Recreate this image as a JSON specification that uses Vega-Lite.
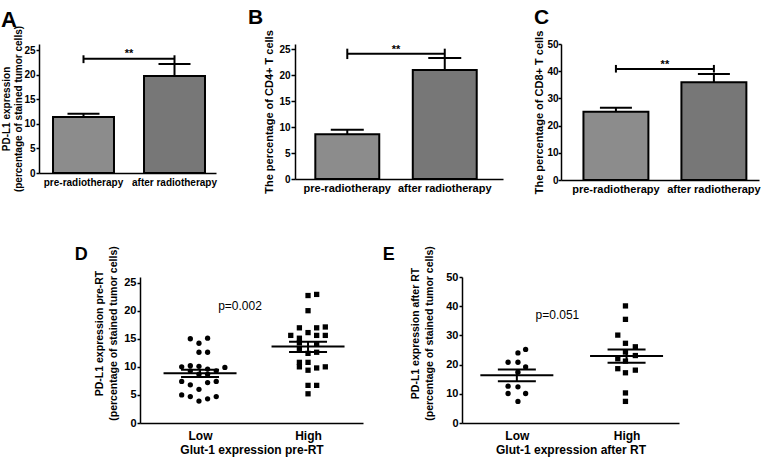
{
  "$schema": "https://vega.github.io/schema/vega-lite/v6.json",
  "background": "white",
  "padding": {"left": 0, "top": 6, "right": 0, "bottom": 2},
  "spacing": 51,
  "config": {
    "font": "Liberation Sans",
    "view": {"stroke": null},
    "mark": {"color": "black"},
    "axis": {"domainColor": "black", "tickColor": "black", "labelColor": "black", "titleColor": "black", "labelFontWeight": "bold", "titleFontWeight": "bold", "grid": false, "domainWidth": 1.5, "tickWidth": 1.5, "tickSize": 4, "titlePadding": 5, "tickCount": 12},
    "axisX": {"titlePadding": 3},
    "title": {"fontWeight": "bold", "anchor": "start", "color": "black", "frame": "bounds"}
  },
  "vconcat": [
    {
      "spacing": 30,
      "hconcat": [
        {
          "title": {"text": "A", "fontSize": 22, "offset": -7, "dx": -1},
          "width": 177,
          "height": 129,
          "encoding": {
            "x": {"field": "cond", "type": "nominal", "sort": null,
              "scale": {"type": "band", "domain": ["pre-radiotherapy", "after radiotherapy"], "paddingInner": 0.33, "paddingOuter": 0.1375, "align": 0.56},
              "axis": {"title": null, "ticks": false, "labelAngle": 0, "labelFontSize": 10, "labelPadding": 4}}
          },
          "layer": [
            {
              "data": {"values": [
                {"cond": "pre-radiotherapy", "mean": 11.4, "err": 12.1},
                {"cond": "after radiotherapy", "mean": 19.8, "err": 22.2}
              ]},
              "layer": [
                {"mark": {"type": "bar", "stroke": "black", "strokeWidth": 2},
                 "encoding": {
                   "y": {"field": "mean", "type": "quantitative", "scale": {"domain": [0, 26.3], "nice": false},
                     "axis": {"values": [0, 5, 10, 15, 20, 25], "title": ["PD-L1 expression", "(percentage of stained tumor cells)"], "titleFontSize": 10, "titleLineHeight": 12, "labelFontSize": 10, "tickSize": 3, "labelPadding": 1, "titlePadding": 0}},
                   "color": {"field": "cond", "type": "nominal", "scale": {"domain": ["pre-radiotherapy", "after radiotherapy"], "range": ["#8c8c8c", "#777777"]}, "legend": null}}},
                {"mark": {"type": "rule", "strokeWidth": 2},
                 "encoding": {"y": {"field": "mean", "type": "quantitative"}, "y2": {"field": "err"}}},
                {"mark": {"type": "tick", "orient": "horizontal", "size": 32, "thickness": 2, "opacity": 1},
                 "encoding": {"y": {"field": "err", "type": "quantitative"}}}
              ]
            },
            {
              "data": {"values": [{"cond": "pre-radiotherapy", "cond2": "after radiotherapy", "y": 23.3}]},
              "mark": {"type": "rule", "strokeWidth": 2},
              "encoding": {"x2": {"field": "cond2"}, "y": {"field": "y", "type": "quantitative"}}
            },
            {
              "data": {"values": [{"cond": "pre-radiotherapy", "y1": 22.4, "y2": 24.0}, {"cond": "after radiotherapy", "y1": 22.4, "y2": 24.0}]},
              "mark": {"type": "rule", "strokeWidth": 2},
              "encoding": {"y": {"field": "y1", "type": "quantitative"}, "y2": {"field": "y2"}}
            },
            {
              "data": {"values": [{"cond": "pre-radiotherapy", "y": 23.6, "t": "**"}]},
              "mark": {"type": "text", "fontSize": 11, "fontWeight": "bold", "baseline": "alphabetic"},
              "encoding": {"x": {"field": "cond", "type": "nominal", "bandPosition": 1.246}, "y": {"field": "y", "type": "quantitative"}, "text": {"field": "t"}}
            }
          ]
        },
        {
          "title": {"text": "B", "fontSize": 21, "offset": 2, "dx": -16},
          "width": 208,
          "height": 135,
          "encoding": {
            "x": {"field": "cond", "type": "nominal", "sort": null,
              "scale": {"type": "band", "domain": ["pre-radiotherapy", "after radiotherapy"], "paddingInner": 0.344, "paddingOuter": 0.239, "align": 0.436},
              "axis": {"title": null, "ticks": false, "labelAngle": 0, "labelFontSize": 11, "labelPadding": 3}}
          },
          "layer": [
            {
              "data": {"values": [
                {"cond": "pre-radiotherapy", "mean": 8.6, "err": 9.5},
                {"cond": "after radiotherapy", "mean": 21.0, "err": 23.3}
              ]},
              "layer": [
                {"mark": {"type": "bar", "stroke": "black", "strokeWidth": 2},
                 "encoding": {
                   "y": {"field": "mean", "type": "quantitative", "scale": {"domain": [0, 25]},
                     "axis": {"values": [0, 5, 10, 15, 20, 25], "title": "The percentage of CD4+ T cells", "titleFontSize": 11, "labelFontSize": 10, "tickSize": 4, "labelPadding": 1, "titlePadding": 4}},
                   "color": {"field": "cond", "type": "nominal", "scale": {"domain": ["pre-radiotherapy", "after radiotherapy"], "range": ["#8c8c8c", "#777777"]}, "legend": null}}},
                {"mark": {"type": "rule", "strokeWidth": 2},
                 "encoding": {"y": {"field": "mean", "type": "quantitative"}, "y2": {"field": "err"}}},
                {"mark": {"type": "tick", "orient": "horizontal", "size": 33, "thickness": 2, "opacity": 1},
                 "encoding": {"y": {"field": "err", "type": "quantitative"}}}
              ]
            },
            {
              "data": {"values": [{"cond": "pre-radiotherapy", "cond2": "after radiotherapy", "y": 24.1}]},
              "mark": {"type": "rule", "strokeWidth": 2},
              "encoding": {"x2": {"field": "cond2"}, "y": {"field": "y", "type": "quantitative"}}
            },
            {
              "data": {"values": [{"cond": "pre-radiotherapy", "y1": 23.1, "y2": 25.1}, {"cond": "after radiotherapy", "y1": 23.1, "y2": 25.1}]},
              "mark": {"type": "rule", "strokeWidth": 2},
              "encoding": {"y": {"field": "y1", "type": "quantitative"}, "y2": {"field": "y2"}}
            },
            {
              "data": {"values": [{"cond": "pre-radiotherapy", "y": 24.3, "t": "**"}]},
              "mark": {"type": "text", "fontSize": 11, "fontWeight": "bold", "baseline": "alphabetic"},
              "encoding": {"x": {"field": "cond", "type": "nominal", "bandPosition": 1.262}, "y": {"field": "y", "type": "quantitative"}, "text": {"field": "t"}}
            }
          ]
        },
        {
          "title": {"text": "C", "fontSize": 21, "offset": 2, "dx": 0},
          "width": 198,
          "height": 136,
          "encoding": {
            "x": {"field": "cond", "type": "nominal", "sort": null,
              "scale": {"type": "band", "domain": ["pre-radiotherapy", "after radiotherapy"], "paddingInner": 0.337, "paddingOuter": 0.179, "align": 0.64},
              "axis": {"title": null, "ticks": false, "labelAngle": 0, "labelFontSize": 11, "labelPadding": 3}}
          },
          "layer": [
            {
              "data": {"values": [
                {"cond": "pre-radiotherapy", "mean": 25.1, "err": 26.6},
                {"cond": "after radiotherapy", "mean": 35.9, "err": 39.0}
              ]},
              "layer": [
                {"mark": {"type": "bar", "stroke": "black", "strokeWidth": 2},
                 "encoding": {
                   "y": {"field": "mean", "type": "quantitative", "scale": {"domain": [0, 50]},
                     "axis": {"values": [0, 10, 20, 30, 40, 50], "title": "The percentage of CD8+ T cells", "titleFontSize": 11, "labelFontSize": 10, "tickSize": 3, "labelPadding": 0, "titlePadding": 2}},
                   "color": {"field": "cond", "type": "nominal", "scale": {"domain": ["pre-radiotherapy", "after radiotherapy"], "range": ["#8c8c8c", "#777777"]}, "legend": null}}},
                {"mark": {"type": "rule", "strokeWidth": 2},
                 "encoding": {"y": {"field": "mean", "type": "quantitative"}, "y2": {"field": "err"}}},
                {"mark": {"type": "tick", "orient": "horizontal", "size": 32, "thickness": 2, "opacity": 1},
                 "encoding": {"y": {"field": "err", "type": "quantitative"}}}
              ]
            },
            {
              "data": {"values": [{"cond": "pre-radiotherapy", "cond2": "after radiotherapy", "y": 40.8}]},
              "mark": {"type": "rule", "strokeWidth": 2},
              "encoding": {"x2": {"field": "cond2"}, "y": {"field": "y", "type": "quantitative"}}
            },
            {
              "data": {"values": [{"cond": "pre-radiotherapy", "y1": 39.5, "y2": 42.3}, {"cond": "after radiotherapy", "y1": 39.5, "y2": 42.3}]},
              "mark": {"type": "rule", "strokeWidth": 2},
              "encoding": {"y": {"field": "y1", "type": "quantitative"}, "y2": {"field": "y2"}}
            },
            {
              "data": {"values": [{"cond": "pre-radiotherapy", "y": 41.3, "t": "**"}]},
              "mark": {"type": "text", "fontSize": 11, "fontWeight": "bold", "baseline": "alphabetic"},
              "encoding": {"x": {"field": "cond", "type": "nominal", "bandPosition": 1.254}, "y": {"field": "y", "type": "quantitative"}, "text": {"field": "t"}}
            }
          ]
        }
      ]
    },
    {
      "spacing": 19,
      "hconcat": [
        {
          "width": 16,
          "height": 10,
          "data": {"values": []},
          "mark": {"type": "point"},
          "encoding": {}
        },
        {
          "title": {"text": "D", "fontSize": 18, "offset": -18, "dx": -20},
          "width": 223,
          "height": 146,
          "layer": [
            {
              "data": {"values": [
                {"g": "Low", "x": 0.91, "v": 15.0}, {"g": "Low", "x": 1.07, "v": 15.1}, {"g": "Low", "x": 0.99, "v": 14.2},
                {"g": "Low", "x": 0.99, "v": 12.6}, {"g": "Low", "x": 1.07, "v": 12.6}, {"g": "Low", "x": 0.83, "v": 10.0},
                {"g": "Low", "x": 0.91, "v": 10.2}, {"g": "Low", "x": 0.99, "v": 10.1}, {"g": "Low", "x": 1.23, "v": 9.9},
                {"g": "Low", "x": 1.07, "v": 9.6}, {"g": "Low", "x": 1.15, "v": 9.3}, {"g": "Low", "x": 0.99, "v": 8.7},
                {"g": "Low", "x": 1.07, "v": 8.7}, {"g": "Low", "x": 0.83, "v": 7.4}, {"g": "Low", "x": 1.15, "v": 7.4},
                {"g": "Low", "x": 1.07, "v": 7.2}, {"g": "Low", "x": 0.91, "v": 6.8}, {"g": "Low", "x": 0.99, "v": 6.0},
                {"g": "Low", "x": 0.83, "v": 5.0}, {"g": "Low", "x": 0.91, "v": 4.7}, {"g": "Low", "x": 1.15, "v": 4.7},
                {"g": "Low", "x": 1.07, "v": 4.3}, {"g": "Low", "x": 0.99, "v": 3.9}, {"g": "Low", "x": 0.91, "v": 9.3},
                {"g": "High", "x": 2.0, "v": 22.7}, {"g": "High", "x": 2.08, "v": 22.9}, {"g": "High", "x": 2.0, "v": 20.0},
                {"g": "High", "x": 1.92, "v": 16.95}, {"g": "High", "x": 2.08, "v": 16.95}, {"g": "High", "x": 2.16, "v": 17.1},
                {"g": "High", "x": 1.84, "v": 15.6}, {"g": "High", "x": 2.0, "v": 16.1}, {"g": "High", "x": 2.08, "v": 15.6},
                {"g": "High", "x": 2.16, "v": 15.6}, {"g": "High", "x": 1.92, "v": 15.1}, {"g": "High", "x": 1.92, "v": 14.3},
                {"g": "High", "x": 2.08, "v": 14.0}, {"g": "High", "x": 1.92, "v": 13.3}, {"g": "High", "x": 2.0, "v": 12.4},
                {"g": "High", "x": 2.08, "v": 12.6}, {"g": "High", "x": 1.92, "v": 10.8}, {"g": "High", "x": 2.0, "v": 10.8},
                {"g": "High", "x": 1.92, "v": 10.0}, {"g": "High", "x": 2.0, "v": 9.4}, {"g": "High", "x": 2.08, "v": 9.8},
                {"g": "High", "x": 2.16, "v": 10.0}, {"g": "High", "x": 2.0, "v": 6.7}, {"g": "High", "x": 2.08, "v": 6.7},
                {"g": "High", "x": 2.0, "v": 5.2}
              ]},
              "mark": {"type": "point", "filled": true, "opacity": 1, "size": 28},
              "encoding": {
                "x": {"field": "x", "type": "quantitative", "scale": {"domain": [0.444, 2.509], "nice": false, "zero": false},
                  "axis": {"values": [1, 2], "labelExpr": "datum.value == 1 ? 'Low' : 'High'", "ticks": false, "labelFlush": false, "title": "Glut-1 expression  pre-RT", "titleFontSize": 12, "labelFontSize": 12, "labelPadding": 7, "titlePadding": 3}},
                "y": {"field": "v", "type": "quantitative", "scale": {"domain": [0, 25]},
                  "axis": {"values": [0, 5, 10, 15, 20, 25], "title": ["PD-L1 expression pre-RT", "(percentage of stained tumor cells)"], "titleFontSize": 10.5, "titleLineHeight": 14, "labelFontSize": 11, "titleY": 56, "tickSize": 3, "labelPadding": 1, "titlePadding": 5}},
                "shape": {"field": "g", "type": "nominal", "scale": {"domain": ["Low", "High"], "range": ["circle", "square"]}, "legend": null}
              }
            },
            {
              "data": {"values": [
                {"xc": 1, "mean": 8.86, "lo": 8.2, "hi": 9.5},
                {"xc": 2, "mean": 13.62, "lo": 12.65, "hi": 14.45}
              ]},
              "layer": [
                {"mark": {"type": "tick", "orient": "horizontal", "size": 73, "thickness": 2, "opacity": 1},
                 "encoding": {"x": {"field": "xc", "type": "quantitative"}, "y": {"field": "mean", "type": "quantitative"}}},
                {"mark": {"type": "tick", "orient": "horizontal", "size": 38, "thickness": 2, "opacity": 1},
                 "encoding": {"x": {"field": "xc", "type": "quantitative"}, "y": {"field": "lo", "type": "quantitative"}}},
                {"mark": {"type": "tick", "orient": "horizontal", "size": 38, "thickness": 2, "opacity": 1},
                 "encoding": {"x": {"field": "xc", "type": "quantitative"}, "y": {"field": "hi", "type": "quantitative"}}},
                {"mark": {"type": "rule", "strokeWidth": 2},
                 "encoding": {"x": {"field": "xc", "type": "quantitative"}, "y": {"field": "lo", "type": "quantitative"}, "y2": {"field": "hi"}}}
              ]
            },
            {
              "data": {"values": [{"x": 1.37, "y": 20.9, "t": "p=0.002"}]},
              "mark": {"type": "text", "fontSize": 12, "baseline": "middle"},
              "encoding": {"x": {"field": "x", "type": "quantitative"}, "y": {"field": "y", "type": "quantitative"}, "text": {"field": "t"}}
            }
          ]
        },
        {
          "title": {"text": "E", "fontSize": 18, "offset": -18, "dx": -28},
          "width": 217,
          "height": 146,
          "layer": [
            {
              "data": {"values": [
                {"g": "Low", "x": 1.08, "v": 25.2}, {"g": "Low", "x": 1.01, "v": 24.0}, {"g": "Low", "x": 0.92, "v": 20.8},
                {"g": "Low", "x": 1.01, "v": 20.8}, {"g": "Low", "x": 1.08, "v": 19.2}, {"g": "Low", "x": 1.01, "v": 17.4},
                {"g": "Low", "x": 0.92, "v": 12.6}, {"g": "Low", "x": 1.01, "v": 12.4}, {"g": "Low", "x": 0.92, "v": 10.1},
                {"g": "Low", "x": 1.08, "v": 10.1}, {"g": "Low", "x": 1.01, "v": 7.4},
                {"g": "High", "x": 1.99, "v": 40.1}, {"g": "High", "x": 1.99, "v": 35.5}, {"g": "High", "x": 1.92, "v": 30.1},
                {"g": "High", "x": 1.99, "v": 27.3}, {"g": "High", "x": 2.08, "v": 26.1}, {"g": "High", "x": 1.99, "v": 24.3},
                {"g": "High", "x": 2.08, "v": 23.1}, {"g": "High", "x": 1.92, "v": 22.0}, {"g": "High", "x": 1.99, "v": 21.2},
                {"g": "High", "x": 1.92, "v": 18.6}, {"g": "High", "x": 1.99, "v": 17.2}, {"g": "High", "x": 2.08, "v": 18.1},
                {"g": "High", "x": 1.99, "v": 10.3}, {"g": "High", "x": 1.99, "v": 7.4}
              ]},
              "mark": {"type": "point", "filled": true, "opacity": 1, "size": 28},
              "encoding": {
                "x": {"field": "x", "type": "quantitative", "scale": {"domain": [0.5, 2.478], "nice": false, "zero": false},
                  "axis": {"values": [1, 2], "labelExpr": "datum.value == 1 ? 'Low' : 'High'", "ticks": false, "labelFlush": false, "title": "Glut-1 expression  after RT", "titleFontSize": 12, "labelFontSize": 12, "labelPadding": 7, "titlePadding": 3}},
                "y": {"field": "v", "type": "quantitative", "scale": {"domain": [0, 50]},
                  "axis": {"values": [0, 10, 20, 30, 40, 50], "title": ["PD-L1 expression after RT", "(percentage of stained tumor cells)"], "titleFontSize": 10.5, "titleLineHeight": 14, "labelFontSize": 11, "titleY": 56, "tickSize": 3, "labelPadding": 1, "titlePadding": 11}},
                "shape": {"field": "g", "type": "nominal", "scale": {"domain": ["Low", "High"], "range": ["circle", "square"]}, "legend": null}
              }
            },
            {
              "data": {"values": [
                {"xc": 1, "mean": 16.36, "lo": 14.3, "hi": 18.3},
                {"xc": 2, "mean": 22.95, "lo": 20.6, "hi": 25.2}
              ]},
              "layer": [
                {"mark": {"type": "tick", "orient": "horizontal", "size": 73, "thickness": 2, "opacity": 1},
                 "encoding": {"x": {"field": "xc", "type": "quantitative"}, "y": {"field": "mean", "type": "quantitative"}}},
                {"mark": {"type": "tick", "orient": "horizontal", "size": 38, "thickness": 2, "opacity": 1},
                 "encoding": {"x": {"field": "xc", "type": "quantitative"}, "y": {"field": "lo", "type": "quantitative"}}},
                {"mark": {"type": "tick", "orient": "horizontal", "size": 38, "thickness": 2, "opacity": 1},
                 "encoding": {"x": {"field": "xc", "type": "quantitative"}, "y": {"field": "hi", "type": "quantitative"}}},
                {"mark": {"type": "rule", "strokeWidth": 2},
                 "encoding": {"x": {"field": "xc", "type": "quantitative"}, "y": {"field": "lo", "type": "quantitative"}, "y2": {"field": "hi"}}}
              ]
            },
            {
              "data": {"values": [{"x": 1.37, "y": 37, "t": "p=0.051"}]},
              "mark": {"type": "text", "fontSize": 12, "baseline": "middle"},
              "encoding": {"x": {"field": "x", "type": "quantitative"}, "y": {"field": "y", "type": "quantitative"}, "text": {"field": "t"}}
            }
          ]
        }
      ]
    }
  ]
}
